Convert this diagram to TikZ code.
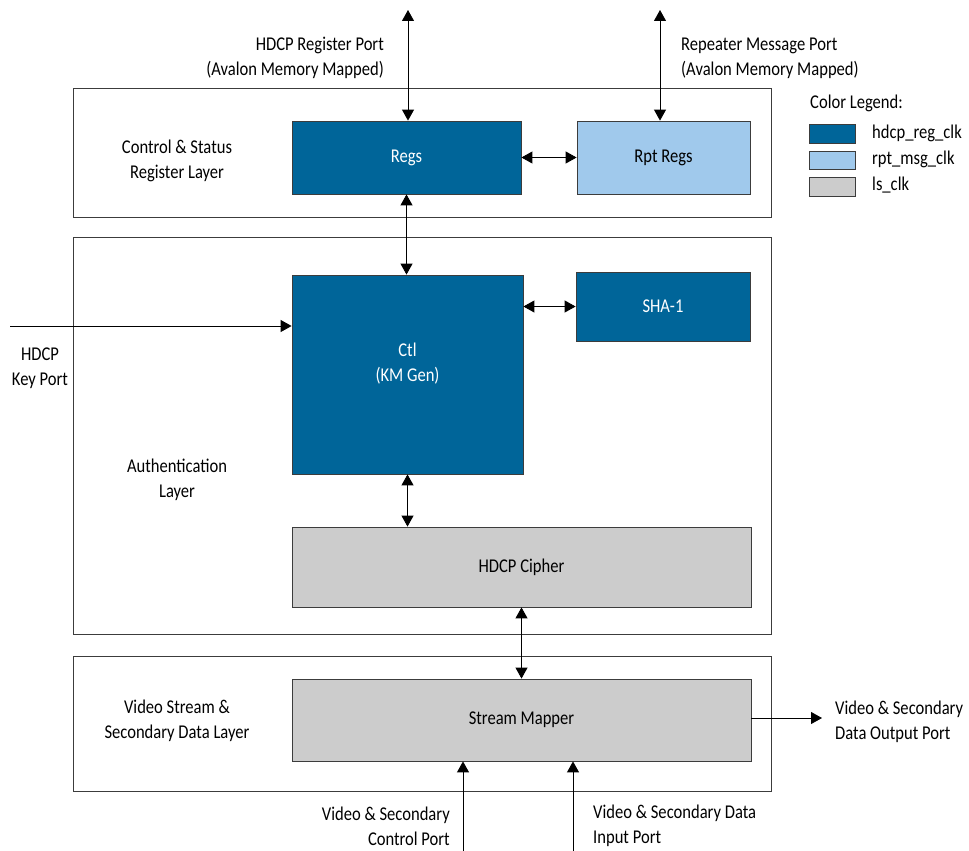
\documentclass[tikz,border=0pt]{standalone}
\usepackage{fontspec}
\setmainfont[FakeStretch=0.85]{Carlito}
\usetikzlibrary{arrows.meta}
\definecolor{dblue}{RGB}{0,101,153}
\definecolor{lblue}{RGB}{160,201,236}
\definecolor{lgray}{RGB}{204,204,204}
\definecolor{bordc}{RGB}{60,60,60}
\begin{document}
\begin{tikzpicture}[x=1pt,y=-1pt,
  every node/.style={font=\fontsize{19.5}{25}\selectfont, inner sep=0pt},
  layer/.style={draw=bordc, line width=0.8pt},
  blk/.style={draw=bordc, line width=0.8pt},
  dkblk/.style={blk, fill=dblue, text=white},
  ltblk/.style={blk, fill=lblue},
  gyblk/.style={blk, fill=lgray},
  conn/.style={line width=0.9pt, -{Triangle[width=12pt,length=11pt]}},
  bconn/.style={line width=0.9pt, {Triangle[width=12pt,length=11pt]}-{Triangle[width=12pt,length=11pt]}},
  lbl/.style={align=center}]
\useasboundingbox (0,0) rectangle (969,851);
% layers
\draw[layer] (73,88) rectangle (771,217);
\draw[layer] (73,237) rectangle (771,634);
\draw[layer] (73,656) rectangle (771,791);
% blocks
\node[dkblk, minimum width=229pt, minimum height=73pt] (regs) at (406.5,157.5) {Regs};
\node[ltblk, minimum width=173pt, minimum height=73pt] (rpt) at (663.5,157.5) {Rpt Regs};
\node[dkblk, minimum width=231pt, minimum height=199pt] (ctl) at (407.5,374.5) {};
\node[align=center, text=white] (ctlt) at (407.5,364) {Ctl\\(KM Gen)};
\node[dkblk, minimum width=174pt, minimum height=69pt] (sha) at (663,306.5) {SHA-1};
\node[gyblk, minimum width=459pt, minimum height=80pt] (ciph) at (521.5,567) {HDCP Cipher};
\node[gyblk, minimum width=459pt, minimum height=82pt] (sm) at (521.5,720) {Stream Mapper};
% layer labels
\node[lbl] (l1) at (177,160.5) {Control \& Status\\Register Layer};
\node[lbl] (l2) at (177,479.5) {Authentication\\Layer};
\node[lbl] (l3) at (177,720.5) {Video Stream \&\\Secondary Data Layer};
% ports
\coordinate (topA) at (408,10);
\coordinate (topB) at (660,10);
\coordinate (keyin) at (10,326);
\coordinate (outp) at (822,718);
\coordinate (inA) at (463,851);
\coordinate (inB) at (573,851);
\draw[bconn] (topA) -- (topA |- regs.north);
\draw[bconn] (topB) -- (topB |- rpt.north);
\draw[bconn] (regs.east) -- (rpt.west);
\draw[bconn] (regs.south) -- (regs.south |- ctl.north);
\draw[bconn] (ctl.east |- sha.west) -- (sha.west);
\draw[bconn] (ctl.south) -- (ctl.south |- ciph.north);
\draw[bconn] (ciph.south) -- (sm.north);
\draw[conn] (keyin) -- (keyin -| ctl.west);
\draw[conn] (sm.east |- outp) -- (outp);
\draw[conn] (inA) -- (inA |- sm.south);
\draw[conn] (inB) -- (inB |- sm.south);
% port labels
\node[align=right, anchor=east] (pl1) at (384,58) {HDCP Register Port\\(Avalon Memory Mapped)};
\node[align=left, anchor=west] (pl2) at (681,58) {Repeater Message Port\\(Avalon Memory Mapped)};
\node[align=center] (pl3) at (40,368) {HDCP\\Key Port};
\node[align=left, anchor=west] (pl4) at (835,722) {Video \& Secondary\\Data Output Port};
\node[align=right, anchor=east] (pl5) at (450,826) {Video \& Secondary\\Control Port};
\node[align=left, anchor=west] (pl6) at (593,826) {Video \& Secondary Data\\Input Port};
% legend
\node[anchor=west] (lgt) at (810,103) {Color Legend:};
\node[dkblk, minimum width=46pt, minimum height=19pt] (sw1) at (832,133.5) {};
\node[ltblk, minimum width=46pt, minimum height=18pt] (sw2) at (832,160) {};
\node[gyblk, minimum width=46pt, minimum height=19pt] (sw3) at (832,186.5) {};
\node[anchor=west] (lg1) at (872,133) {hdcp\_reg\_clk};
\node[anchor=west] (lg2) at (872,159) {rpt\_msg\_clk};
\node[anchor=west] (lg3) at (872,185) {ls\_clk};
\end{tikzpicture}
\end{document}
